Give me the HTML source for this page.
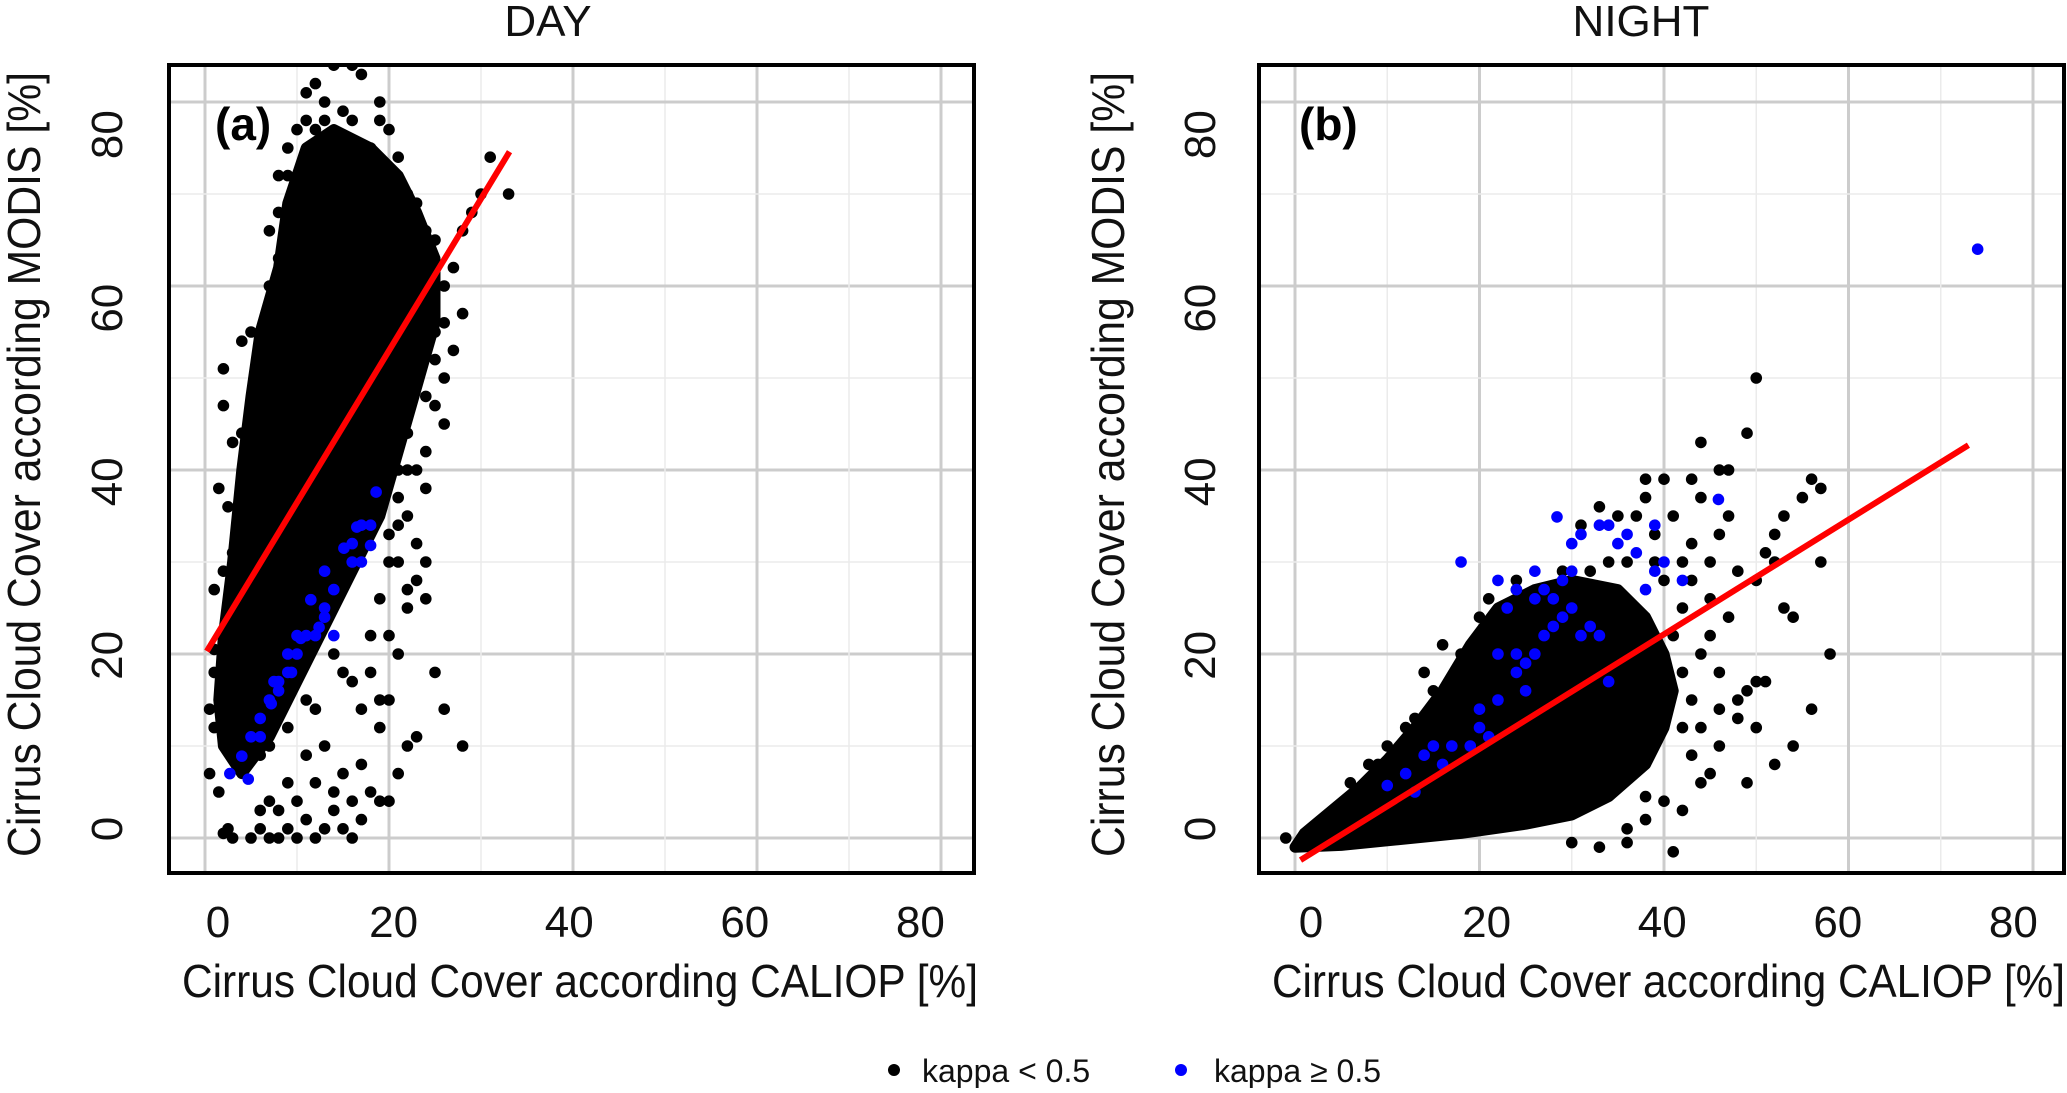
<!DOCTYPE html>
<html><head><meta charset="utf-8"><style>
html,body{margin:0;padding:0;background:#fff}
svg text{font-family:"Liberation Sans",sans-serif}
</style></head><body>
<svg id="chart" width="2067" height="1088" viewBox="0 0 2067 1088" xmlns="http://www.w3.org/2000/svg">
<defs>
<clipPath id="clipA"><rect x="169" y="65" width="805" height="808"/></clipPath>
<clipPath id="clipB"><rect x="1259" y="65" width="808" height="808"/></clipPath>
</defs>
<text x="548" y="36" font-size="44" text-anchor="middle" fill="#111">DAY</text>
<text x="1641" y="36" font-size="44" text-anchor="middle" fill="#111">NIGHT</text>
<g id="panelA"></g>
<g id="panelB"></g>
<g>
<g>
<circle cx="894" cy="1070" r="6" fill="#000"/>
<text x="922" y="1082" font-size="32" fill="#111">kappa &lt; 0.5</text></g>
<g>
<circle cx="1181" cy="1070" r="6" fill="#0000ff"/>
<text x="1214" y="1082" font-size="32" fill="#111">kappa ≥ 0.5</text></g>
</g>
</svg>
<script>
const xTicks=[0,20,40,60,80];
const yTicks=[0,20,40,60,80];
const tickLabels=["0","20","40","60","80"];
const dayFit=[[0.2,20.3],[33.1,74.6]];
const nightFit=[[0.6,-2.4],[73,42.7]];
const dayCore=[[2,10],[4,7],[7,11],[10,17],[13,23],[16,29],[19,35],[21,42],[23,49],[25,56],[25,63],[23,68],[21,72],[18,75],[14,77],[11,75],[9,69],[8,62],[6,55],[5,48],[4,40],[3,30],[2,22],[1.5,15]];
const nightCore=[[0,-1],[5,-0.8],[10,-0.3],[18,0.5],[25,1.5],[30,2.5],[34,4.5],[38,8],[40,12],[41,16],[40,20],[38,24],[35,27],[30,28],[26,27],[22,25],[19,21],[16,16],[13,12],[10,8.5],[7,5.5],[4,3],[1,0.5]];
const dayBlack=[[1,20.5],[1,18],[0.5,14],[1,12],[0.5,7],[1.5,5],[2.5,1],[2,0.5],[3,0],[5,0],[6,1],[7,0],[8,0],[9,1],[10,0],[11,2],[12,0],[13,1],[14,3],[15,1],[16,0],[17,2],[18,5],[19,4],[20,4],[21,7],[8,3],[10,4],[12,6],[14,5],[15,7],[16,4],[17,8],[19,15],[20,15],[18,18],[17,14],[16,17],[15,18],[14,20],[10,18],[12,14],[22,10],[23,11],[25,18],[26,14],[28,10],[4,10],[6,9],[2,51],[2,47],[3,43],[1.5,38],[2.5,36],[2,29],[1,27],[3,23],[4,44],[5,55],[4,54],[6,45],[5,41],[3,31],[25,47],[24,42],[22,44],[25,52],[27,53],[28,57],[27,62],[28,66],[29,68],[30,70],[31,74],[33,70],[26,60],[25,65],[22,35],[22,27],[23,28],[24,26],[21,30],[22,25],[21,37],[20,33],[11,81],[12,82],[14,84],[15,85],[16,84],[17,83],[13,78],[10,77],[9,72],[8,68],[7,66],[7,60],[8,63],[20,77],[18,75],[19,80],[21,69],[20,72],[22,70],[23,69],[24,66],[22,64],[10,65],[9,60],[13,80],[15,79],[16,78],[12,77],[18,73],[23,67],[26,56],[26,50],[23,40],[24,38],[21,40],[5,30],[6,26],[7,35],[4,18],[3,15],[2,13],[3,25],[5,20],[23,32],[24,30],[20,22],[21,20],[19,12],[13,10],[11,9],[7,4],[9,6],[6,3],[25,55],[26,45],[24,48],[25,60],[23,60],[8,72],[9,75],[11,78],[19,78],[21,74],[6,50],[5,46],[4,35],[3,27],[22,40],[21,34],[20,30],[19,26],[18,22],[11,15],[9,12],[7,10]];
const dayBlue=[[2.7,7],[4.7,6.4],[4,8.9],[5,11],[6,11],[6,13],[7.2,14.6],[7,15],[8,16],[7.5,17],[8,17],[9.4,18],[9,18],[10,20],[10.4,21.7],[11,22],[12,22],[12.4,22.9],[13,24],[13,25],[11.5,25.9],[14,27],[13,29],[15.1,31.5],[16,30],[16,32],[16.5,33.8],[17,34],[18,34],[18,31.8],[18.6,37.6],[17,30],[14,22],[9,20],[10,22]];
const nightBlack=[[42,25],[45,30],[46,33],[44,20],[48,15],[50,12],[52,8],[54,10],[56,14],[58,20],[47,40],[49,44],[50,50],[46,40],[43,39],[44,43],[40,39],[38,39],[37,35],[35,35],[52,30],[55,37],[56,39],[57,30],[54,24],[51,31],[48,29],[33,36],[31,34],[28,27],[26,25],[24,27],[20,24],[18,20],[15,16],[13,13],[10,10],[8,8],[17,15],[14,18],[30,-0.5],[33,-1],[36,1],[38,2],[40,4],[42,3],[44,6],[46,10],[49,16],[50,17],[51,17],[47,24],[45,26],[43,32],[41,35],[39,33],[38,37],[52,33],[47,35],[53,25],[46,18],[42,12],[38,4.5],[36,-0.5],[41,-1.5],[49,6],[48,13],[45,22],[43,28],[50,28],[53,35],[57,38],[44,37],[42,30],[40,28],[39,30],[36,30],[34,30],[32,29],[29,29],[24,28],[21,26],[16,21],[12,12],[9,8],[6,6],[3,2],[43,15],[44,12],[46,14],[45,7],[43,9],[41,22],[42,18],[-1,0],[2,0.5]];
const nightBlue=[[74,64],[18,30],[22,28],[24,27],[26,26],[27,27],[28,26],[28.4,34.9],[30,32],[31,33],[33,34],[34,34],[35,32],[36,33],[37,31],[39,34],[39,29],[40,30],[42,28],[38,27],[45.9,36.8],[24,20],[22,20],[25,19],[26,20],[27,22],[28,23],[29,24],[30,25],[31,22],[32,23],[33,22],[34,17],[20,12],[21,11],[19,10],[22,15],[20,14],[16,8],[14,9],[15,10],[17,10],[13,5],[10,5.7],[12,7],[23,25],[26,29],[29,28],[30,29],[24,18],[25,16]];

const NS='http://www.w3.org/2000/svg';
function mk(tag,attrs,parent){const e=document.createElementNS(NS,tag);for(const k in attrs)e.setAttribute(k,attrs[k]);parent.appendChild(e);return e;}

function drawPanel(g,cfg){
  const sx=v=>cfg.x0+v*cfg.kx, sy=v=>838-v*9.2;
  const lx=v=>cfg.lx0+v*8.78, ly=v=>829-v*8.68;
  const T=65,B=873;
  const grid=mk('g',{},g);
  
  
  for(let v=-10;v<=90;v+=10){
    const major=v%20===0;
    const st=major?'#cccccc':'#ebebeb', w=major?3:1.5;
    const X=sx(v); if(X>cfg.L&&X<cfg.R) mk('line',{x1:X,x2:X,y1:T,y2:B,stroke:st,'stroke-width':w},grid);
    const Y=sy(v); if(Y>T&&Y<B) mk('line',{x1:cfg.L,x2:cfg.R,y1:Y,y2:Y,stroke:st,'stroke-width':w},grid);
  }
  const pts=mk('g',{'clip-path':cfg.clip},g);
  const core=mk('polygon',{points:cfg.core.map(p=>sx(p[0])+','+sy(p[1])).join(' '),fill:'#000',stroke:'#000','stroke-width':11,'stroke-linejoin':'round'},pts);
  
  
  cfg.black.forEach(p=>{const c=mk('circle',{cx:sx(p[0]),cy:sy(p[1]),r:5.8,fill:'#000'},pts);
    
    });
  cfg.blue.forEach(p=>{const c=mk('circle',{cx:sx(p[0]),cy:sy(p[1]),r:5.8,fill:'#0000ff'},pts);
    
    });
  const fl=mk('line',{x1:sx(cfg.fit[0][0]),y1:sy(cfg.fit[0][1]),x2:sx(cfg.fit[1][0]),y2:sy(cfg.fit[1][1]),stroke:'#ff0000','stroke-width':6},pts);
  
  
  const box=mk('rect',{x:cfg.L,y:T,width:cfg.R-cfg.L,height:B-T,fill:'none',stroke:'#000','stroke-width':4},g);
  
  
  xTicks.forEach((v,i)=>{const t=mk('text',{x:lx(v),y:937,'font-size':44,'text-anchor':'middle',fill:'#111'},g);t.textContent=tickLabels[i];
    
    });
  yTicks.forEach((v,i)=>{const X=cfg.ylx,Y=ly(v);const t=mk('text',{x:X,y:Y,'font-size':44,'text-anchor':'middle',fill:'#111',transform:`rotate(-90 ${X} ${Y})`},g);t.textContent=tickLabels[i];
    
    });
  const xt=mk('text',{x:cfg.xtx,y:997,'font-size':46,fill:'#111',textLength:cfg.xtw,lengthAdjust:'spacingAndGlyphs'},g);
  xt.textContent='Cirrus Cloud Cover according CALIOP [%]';
  
  
  const yx=cfg.ytx, yy=857;
  const yt=mk('text',{x:yx,y:yy,'font-size':46,fill:'#111',textLength:785,lengthAdjust:'spacingAndGlyphs',transform:`rotate(-90 ${yx} ${yy})`},g);
  yt.textContent='Cirrus Cloud Cover according MODIS [%]';
  
  
  const pl=mk('text',{x:cfg.plx,y:140,'font-size':46,'font-weight':'bold',fill:'#000'},g);
  pl.textContent=cfg.label;
  
  
}
drawPanel(document.getElementById('panelA'),{x0:205,kx:9.2,L:169,R:974,clip:'url(#clipA)',core:dayCore,black:dayBlack,blue:dayBlue,fit:dayFit,lx0:218,ylx:122,xtx:182,xtw:796,ytx:40,plx:215,label:'(a)'});
drawPanel(document.getElementById('panelB'),{x0:1295,kx:9.225,L:1259,R:2064,clip:'url(#clipB)',core:nightCore,black:nightBlack,blue:nightBlue,fit:nightFit,lx0:1311,ylx:1215,xtx:1272,xtw:793,ytx:1124,plx:1299,label:'(b)'});
</script>
</body></html>
